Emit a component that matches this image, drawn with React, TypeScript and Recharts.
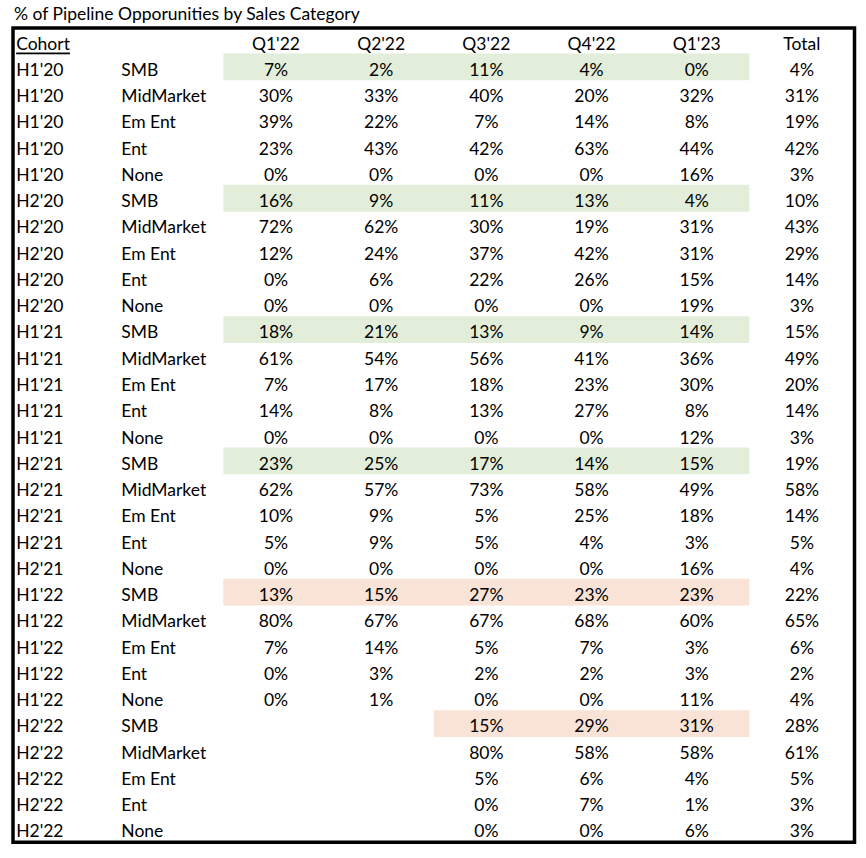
import React from 'react';
import { ScatterChart, Scatter, XAxis, YAxis, ReferenceArea } from 'recharts';

const title = '% of Pipeline Opporunities by Sales Category';
const cohorts = ["H1'20", "H2'20", "H1'21", "H2'21", "H1'22", "H2'22"];
const segments = ['SMB', 'MidMarket', 'Em Ent', 'Ent', 'None'];
const quarters = ["Q1'22", "Q2'22", "Q3'22", "Q4'22", "Q1'23"];

// one value per row (cohort x segment), null = blank cell
const q1_22 = [7, 30, 39, 23, 0, 16, 72, 12, 0, 0, 18, 61, 7, 14, 0, 23, 62, 10, 5, 0, 13, 80, 7, 0, 0, null, null, null, null, null];
const q2_22 = [2, 33, 22, 43, 0, 9, 62, 24, 6, 0, 21, 54, 17, 8, 0, 25, 57, 9, 9, 0, 15, 67, 14, 3, 1, null, null, null, null, null];
const q3_22 = [11, 40, 7, 42, 0, 11, 30, 37, 22, 0, 13, 56, 18, 13, 0, 17, 73, 5, 5, 0, 27, 67, 5, 2, 0, 15, 80, 5, 0, 0];
const q4_22 = [4, 20, 14, 63, 0, 13, 19, 42, 26, 0, 9, 41, 23, 27, 0, 14, 58, 25, 4, 0, 23, 68, 7, 2, 0, 29, 58, 6, 7, 0];
const q1_23 = [0, 32, 8, 44, 16, 4, 31, 31, 15, 19, 14, 36, 30, 8, 12, 15, 49, 18, 3, 16, 23, 60, 3, 3, 11, 31, 58, 4, 1, 6];
const total = [4, 31, 19, 42, 3, 10, 43, 29, 14, 3, 15, 49, 20, 14, 3, 19, 58, 14, 5, 4, 22, 65, 6, 2, 4, 28, 61, 5, 3, 3];
const quarterValues = [q1_22, q2_22, q3_22, q4_22, q1_23];

// cohorts from H1'22 on are marked orange, older ones green
const greenFill = '#E3EEDA';
const orangeFill = '#F9E3D6';
const FONT = 'Lato, sans-serif';
const FONT_SIZE = 17.5;
const LEFT_PAD = 0.03;
const ROWS = cohorts.length * segments.length; // data rows under the header

type Cell = { x: number; y: number; text: string; anchor: string; underline?: boolean };

const cells: Cell[] = [];
cells.push({ x: LEFT_PAD, y: 0, text: 'Cohort', anchor: 'start', underline: true });
quarters.forEach((q, i) => cells.push({ x: i + 2.5, y: 0, text: q, anchor: 'middle' }));
cells.push({ x: 7.5, y: 0, text: 'Total', anchor: 'middle' });

cohorts.forEach((c, ci) => {
  segments.forEach((s, si) => {
    const r = ci * segments.length + si;
    const y = r + 1;
    cells.push({ x: LEFT_PAD, y, text: c, anchor: 'start' });
    cells.push({ x: 1 + LEFT_PAD, y, text: s, anchor: 'start' });
    quarterValues.forEach((vals, qi) => {
      if (vals[r] !== null) cells.push({ x: qi + 2.5, y, text: vals[r] + '%', anchor: 'middle' });
    });
    cells.push({ x: 7.5, y, text: total[r] + '%', anchor: 'middle' });
  });
});

const highlights = cohorts.map((c, ci) => {
  const r = ci * segments.length;
  const first = quarterValues.findIndex((vals) => vals[r] !== null);
  return { y: r + 1, x1: first + 2, x2: 2 + quarters.length, fill: ci >= 4 ? orangeFill : greenFill };
});

const CellText = (props: any) => {
  const { cx, cy, payload } = props;
  return (
    <text
      x={cx}
      y={cy}
      textAnchor={payload.anchor}
      dominantBaseline="central"
      fontFamily={FONT}
      fontSize={FONT_SIZE}
      fill="#000"
      textDecoration={payload.underline ? 'underline' : undefined}
    >
      {payload.text}
    </text>
  );
};

export default function App() {
  return (
    <div style={{ position: 'absolute', left: 0, top: 0, width: 866, height: 858, background: '#fff' }}>
      <div style={{ position: 'absolute', left: 14, top: 3, fontFamily: FONT, fontSize: FONT_SIZE, color: '#000', whiteSpace: 'nowrap' }}>{title}</div>
      <ScatterChart width={866} height={858} margin={{ top: 29.9, right: 11.5, bottom: 13.9, left: 13 }}>
        <XAxis type="number" dataKey="x" domain={[0, 8]} allowDataOverflow hide />
        <YAxis type="number" dataKey="y" domain={[-0.5, ROWS + 0.5]} allowDataOverflow reversed hide />
        {highlights.map((h) => (
          <ReferenceArea key={h.y} x1={h.x1} x2={h.x2} y1={h.y - 0.6} y2={h.y + 0.42} fill={h.fill} fillOpacity={1} stroke="none" />
        ))}
        <ReferenceArea x1={0} x2={8} y1={-0.57} y2={ROWS + 0.43} ifOverflow="visible" fill="none" stroke="#000" strokeWidth={3.5} />
        <Scatter data={cells} shape={CellText} isAnimationActive={false} />
      </ScatterChart>
    </div>
  );
}
